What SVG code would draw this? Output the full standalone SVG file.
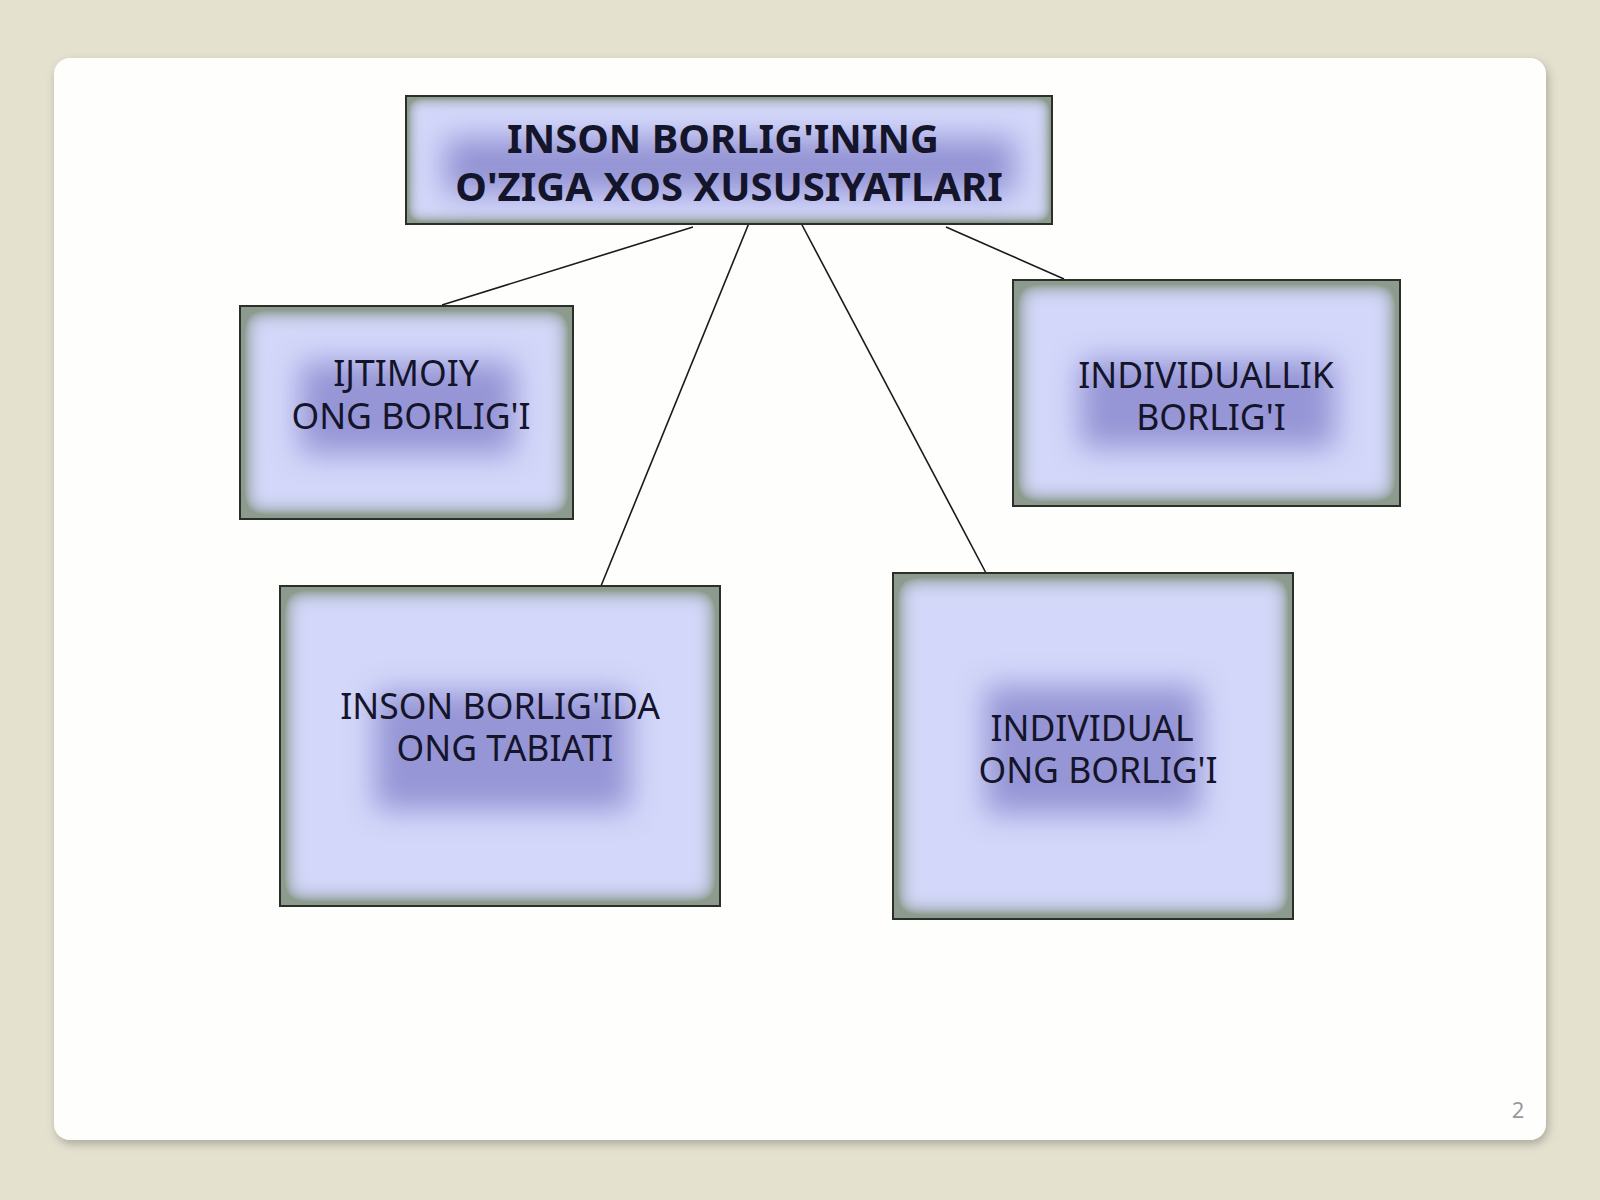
<svg xmlns="http://www.w3.org/2000/svg" width="1600" height="1200" viewBox="0 0 1600 1200">
<defs>
<style>
.t{font-family:"Noto Sans","Open Sans","DejaVu Sans",sans-serif;fill:#14142a;text-anchor:middle}
.tb{font-size:40px;font-weight:bold}
.tr{font-size:35.5px}
.box{fill:#d3d8fa;filter:url(#inner2)}
.boxt{fill:#d3d8fa;filter:url(#inner)}
.bd{fill:none;stroke:#2a2f2a;stroke-width:2}
.glow{fill:#7f7cc8;filter:url(#gl)}
.ln{stroke:#1a1a1a;stroke-width:1.6;fill:none}
</style>
<filter id="inner" x="0" y="0" width="1" height="1">
<feGaussianBlur in="SourceAlpha" stdDeviation="8" result="b"/>
<feComponentTransfer in="b" result="inv"><feFuncA type="linear" slope="-2.4" intercept="2.4"/></feComponentTransfer>
<feFlood flood-color="#8c9b8d" result="f"/>
<feComposite in="f" in2="inv" operator="in" result="sh"/>
<feComposite in="sh" in2="SourceGraphic" operator="over"/>
</filter>
<filter id="inner2" x="0" y="0" width="1" height="1">
<feGaussianBlur in="SourceAlpha" stdDeviation="12" result="b"/>
<feComponentTransfer in="b" result="inv"><feFuncA type="linear" slope="-2.7" intercept="2.7"/></feComponentTransfer>
<feFlood flood-color="#8c9b8d" result="f"/>
<feComposite in="f" in2="inv" operator="in" result="sh"/>
<feComposite in="sh" in2="SourceGraphic" operator="over"/>
</filter>
<filter id="gl" x="-40%" y="-80%" width="180%" height="260%">
<feGaussianBlur stdDeviation="15"/>
</filter>
<filter id="cs" x="-5%" y="-5%" width="110%" height="110%">
<feDropShadow dx="2" dy="4" stdDeviation="5" flood-color="#000" flood-opacity="0.25"/>
</filter>
</defs>
<rect width="1600" height="1200" fill="#e4e1cf"/>
<rect x="54" y="58" width="1492" height="1082" rx="16" fill="#fefefc" filter="url(#cs)"/>
<g id="connectors">
<line class="ln" x1="693" y1="227" x2="442" y2="305"/>
<line class="ln" x1="749" y1="223" x2="601" y2="586"/>
<line class="ln" x1="801" y1="223" x2="986" y2="573"/>
<line class="ln" x1="946" y1="227" x2="1064" y2="279"/>
</g>
<g id="n-top">
<rect class="boxt" x="406" y="96" width="646" height="128"/>
<rect class="glow" x="445" y="138" width="570" height="56" opacity="0.75"/>
<rect class="bd" x="406" y="96" width="646" height="128"/>
<text class="t tb" x="723" y="153">INSON BORLIG'INING</text>
<text class="t tb" x="729" y="201">O'ZIGA XOS XUSUSIYATLARI</text>
</g>
<g id="n-ijtimoiy">
<rect class="box" x="240" y="306" width="333" height="213"/>
<rect class="glow" x="300" y="362" width="215" height="92" opacity="0.72"/>
<rect class="bd" x="240" y="306" width="333" height="213"/>
<text class="t tr" x="406" y="386">IJTIMOIY</text>
<text class="t tr" x="411" y="429">ONG BORLIG'I</text>
</g>
<g id="n-individuallik">
<rect class="box" x="1013" y="280" width="387" height="226"/>
<rect class="glow" x="1080" y="360" width="255" height="88" opacity="0.72"/>
<rect class="bd" x="1013" y="280" width="387" height="226"/>
<text class="t tr" x="1206" y="388">INDIVIDUALLIK</text>
<text class="t tr" x="1211" y="430">BORLIG'I</text>
</g>
<g id="n-inson-ong">
<rect class="box" x="280" y="586" width="440" height="320"/>
<rect class="glow" x="375" y="692" width="255" height="118" opacity="0.72"/>
<rect class="bd" x="280" y="586" width="440" height="320"/>
<text class="t tr" x="500" y="719">INSON BORLIG'IDA</text>
<text class="t tr" x="505" y="761">ONG TABIATI</text>
</g>
<g id="n-individual">
<rect class="box" x="893" y="573" width="400" height="346"/>
<rect class="glow" x="985" y="686" width="215" height="128" opacity="0.72"/>
<rect class="bd" x="893" y="573" width="400" height="346"/>
<text class="t tr" x="1092" y="741">INDIVIDUAL</text>
<text class="t tr" x="1098" y="783">ONG BORLIG'I</text>
</g>
<text x="1518" y="1118" style="font-family:'Noto Sans','Open Sans',sans-serif;font-size:22px;fill:#9a9a9a;text-anchor:middle">2</text>
</svg>
